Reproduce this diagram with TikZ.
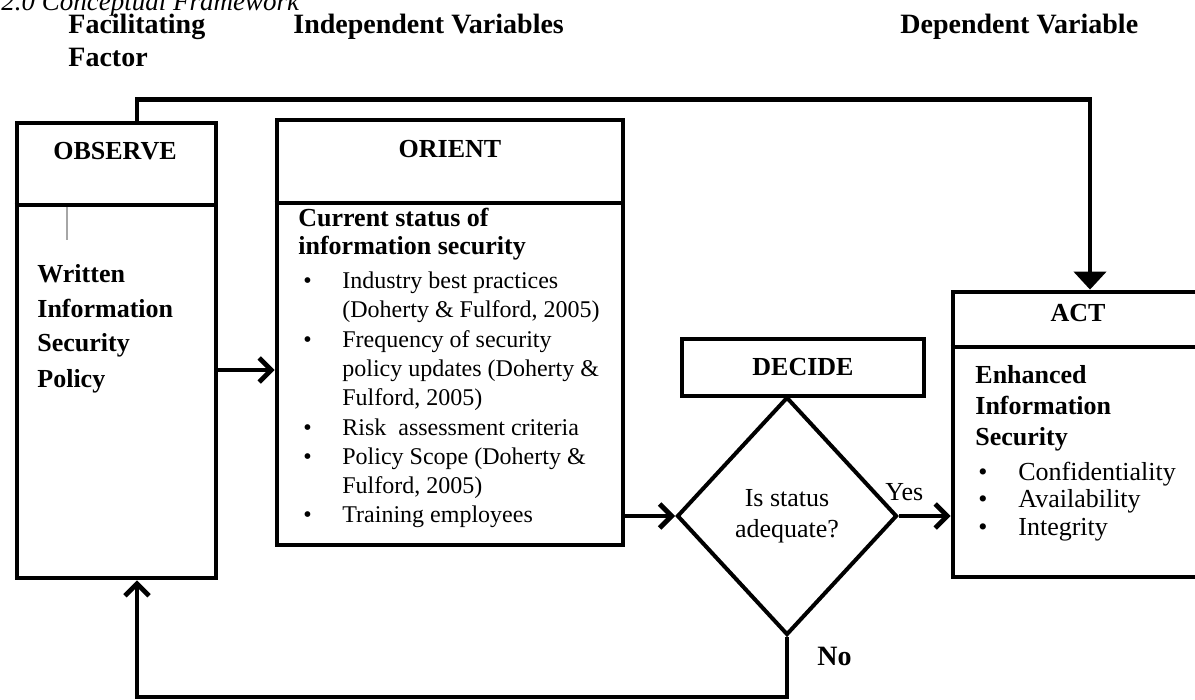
\documentclass[tikz,border=0pt]{standalone}
\usepackage{fontspec}
\setmainfont{Liberation Serif}
\usetikzlibrary{arrows.meta,positioning,shapes.geometric}

\newcommand{\bul}[1]{\makebox[#1][l]{\textbullet}}
\newcommand{\cont}[1]{\hspace*{#1}}

\tikzset{
  panel/.style={draw, line width=2.4pt, inner sep=0pt},
  thinpanel/.style={draw, line width=2pt, inner sep=0pt},
  flow/.style={line width=2.4pt, -{Straight Barb[length=6pt,width=12pt]}},
  feed/.style={line width=2.4pt, -{Triangle[length=9pt,width=16pt]}},
  boldtxt/.style={font=\fontsize{13}{15.5}\selectfont\bfseries, inner sep=0pt},
  head/.style={font=\fontsize{14}{16.5}\selectfont\bfseries, inner sep=0pt, align=left, anchor=base west},
  bodytxt/.style={inner sep=0pt, align=left, anchor=base west},
}

\begin{document}
\begin{tikzpicture}[x=0.5pt, y=-0.5pt]
  \useasboundingbox (0,0) rectangle (1195,700);

  % Title and column headings (multi-line nodes sit on their last baseline)
  \node[font=\fontsize{13.5}{16}\selectfont\itshape, inner sep=0pt, anchor=base west] (title) at (1,11) {2.0 Conceptual Framework};
  \node[head] (facil) at (68,67) {Facilitating\\Factor};
  \node[head] (indep) at (293,34) {Independent Variables};
  \node[head] (dep) at (900,34) {Dependent Variable};

  % Boxes
  \node[panel, minimum width=99.5pt, minimum height=227.5pt] (observe) at (116.5,350.5) {};
  \node[panel, minimum width=173pt, minimum height=212.5pt] (orient) at (450,332.5) {};
  \node[thinpanel, boldtxt, minimum width=121pt, minimum height=28.5pt] (decide) at (803,367.5) {DECIDE};
  \node[thinpanel, diamond, minimum width=110pt, minimum height=119pt, align=center,
        font=\fontsize{13}{15.5}\selectfont] (dec) at (787,516) {Is status\\adequate?};
  \node[panel, minimum width=126pt, minimum height=142.5pt] (act) at (1079,434.5) {};

  % Dividers under the box titles
  \draw[line width=2.4pt] ([yshift=-42.2pt]observe.north west) -- ([yshift=-42.2pt]observe.north east);
  \draw[line width=2.4pt] ([yshift=-42.7pt]orient.north west) -- ([yshift=-42.7pt]orient.north east);
  \draw[line width=2.4pt] ([yshift=-28.7pt]act.north west) -- ([yshift=-28.7pt]act.north east);
  \draw[gray!70, line width=0.6pt] (67,207) -- (67,240);

  % Box titles
  \node[boldtxt, anchor=base] (obsTitle) at (115,160) {OBSERVE};
  \node[boldtxt, anchor=base] (oriTitle) at (450,158) {ORIENT};
  \node[boldtxt, anchor=base] (actTitle) at (1078,322) {ACT};

  % Box contents
  \node[bodytxt, font=\fontsize{13}{17.5}\selectfont\bfseries] (policy) at (37,387)
    {Written\\Information\\Security\\Policy};
  \node[bodytxt, font=\fontsize{13}{14}\selectfont\bfseries] (status) at (298,255)
    {Current status of\\information security};
  \node[bodytxt, font=\fontsize{12}{14.65}\selectfont] (practices) at (303,523)
    {\bul{19.5pt}Industry best practices\\
     \cont{19.5pt}(Doherty \& Fulford, 2005)\\
     \bul{19.5pt}Frequency of security\\
     \cont{19.5pt}policy updates (Doherty \&\\
     \cont{19.5pt}Fulford, 2005)\\
     \bul{19.5pt}Risk~ assessment criteria\\
     \bul{19.5pt}Policy Scope (Doherty \&\\
     \cont{19.5pt}Fulford, 2005)\\
     \bul{19.5pt}Training employees};
  \node[bodytxt, font=\fontsize{13}{15.5}\selectfont\bfseries] (enhanced) at (975,445)
    {Enhanced\\Information\\Security};
  \node[bodytxt, font=\fontsize{13}{13.75}\selectfont] (cia) at (978,535)
    {\bul{20pt}Confidentiality\\\bul{20pt}Availability\\\bul{20pt}Integrity};

  % Connectors
  \coordinate (obsOut) at (216,370);
  \draw[flow] (observe.east |- obsOut) -- (orient.west |- obsOut);
  \draw[flow] (orient.east |- dec.west) -- (dec.west);
  \draw[flow] (dec.east) -- (act.west |- dec.east);
  \node[inner sep=0pt, anchor=base west, font=\fontsize{13}{15}\selectfont] (yes) at ([xshift=-7pt,yshift=7.5pt]dec.east) {Yes};

  \coordinate (obsIn) at ([xshift=10.25pt]observe.south);
  \draw[flow] (dec.south) -- ++(0,60) -| (obsIn);
  \node[inner sep=0pt, anchor=base west, font=\fontsize{14}{16}\selectfont\bfseries] (no) at ([xshift=15pt,yshift=-14pt]dec.south) {No};

  \coordinate (obsTop) at ([xshift=10.25pt]observe.north);
  \coordinate (actIn) at ([xshift=5.5pt]act.north);
  \draw[feed] (obsTop) -- ++(0,-21) -| (actIn);
\end{tikzpicture}
\end{document}
